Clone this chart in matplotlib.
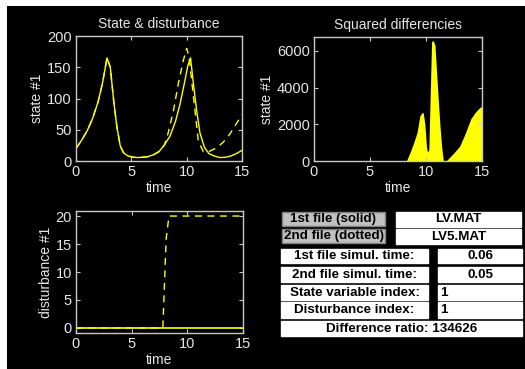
import matplotlib.pyplot as plt
from matplotlib.patches import Rectangle

# ---- data ----
t_solid = [0, 0.5, 1.0, 1.5, 2.0, 2.4, 2.8, 3.1, 3.4, 3.7, 4.0, 4.3, 4.7, 5.2, 5.6,
           6.0, 6.5, 7.0, 7.5, 8.0, 8.5, 9.0, 9.4, 9.8, 10.1, 10.35, 10.6, 10.9,
           11.2, 11.6, 12.0, 12.5, 13.0, 13.5, 14.0, 14.5, 15.0]
state_solid = [20, 33, 48, 68, 95, 125, 165, 150, 97, 54, 24, 13, 8, 6, 5.5,
               6, 7, 10, 15, 26, 40, 64, 91, 125, 152, 165, 125, 81,
               45, 22, 12, 8, 5.5, 6, 8, 12, 17]

t_dash = [0, 0.5, 1.0, 1.5, 2.0, 2.4, 2.8, 3.1, 3.4, 3.7, 4.0, 4.3, 4.7, 5.2, 5.6,
          6.0, 6.5, 7.0, 7.5, 8.0, 8.3, 8.8, 9.25, 9.7, 10.0, 10.2, 10.45, 10.75,
          11.05, 11.5, 12.0, 12.7, 13.3, 13.9, 14.5, 15.0]
state_dash = [20, 33, 48, 68, 95, 125, 165, 150, 97, 54, 24, 13, 8, 6, 5.5,
              6, 7, 10, 15, 26, 43, 80, 124, 161, 180, 168, 129, 81,
              32, 15, 15, 21, 30, 43, 60, 74]

t_sq = [0, 8.25, 8.6, 8.9, 9.2, 9.45, 9.6, 9.75, 9.9, 10.04, 10.12, 10.25, 10.4,
        10.5, 10.65, 10.8, 10.95, 11.1, 11.25, 11.4, 11.55, 11.8, 12.1, 12.5,
        13.0, 13.5, 14.0, 14.4, 14.7, 15.0]
sq_diff = [0, 0, 500, 1000, 1550, 2450, 2600, 2650, 2000, 800, 500, 600, 4200,
           6500, 6550, 6300, 4800, 3300, 1900, 760, 0, 0, 200, 450,
           800, 1500, 2300, 2650, 2850, 3000]

t_dist_solid = [0, 15]
dist_solid = [0, 0]
t_dist_dash = [0, 7.8, 8.1, 8.35, 15]
dist_dash = [0, 0, 16, 20, 20]

files = ["LV.MAT", "LV5.MAT"]
sim_times = ["0.06", "0.05"]
state_index = "1"
dist_index = "1"
diff_ratio = "134626"

# ---- figure ----
W, H = 525, 369
fig = plt.figure(figsize=(W / 100, H / 100), dpi=100, facecolor='white')
fig.patches.append(Rectangle((7 / W, 0), 1 - 7 / W, 1 - 6 / H, transform=fig.transFigure,
                             facecolor='black', edgecolor='none', zorder=-5))

fg = '#e6e6e6'
plt.rcParams['font.family'] = ['Liberation Sans', 'DejaVu Sans']


def px_axes(l, t, r, b):
    return fig.add_axes([l / W, 1 - b / H, (r - l) / W, (b - t) / H])


def style(ax):
    ax.set_facecolor('black')
    for s in ax.spines.values():
        s.set_color('#c8c8c8')
        s.set_linewidth(1)
    ax.tick_params(direction='in', top=True, right=True, length=3, colors='#c8c8c8',
                   labelcolor=fg, labelsize=10.5, pad=3)
    ax.set_xlim(0, 15)
    ax.set_xticks([0, 5, 10, 15])


ax1 = px_axes(76, 36, 242, 161)
style(ax1)
ax1.plot(t_solid, state_solid, '-', color='yellow', lw=1)
ax1.plot(t_dash, state_dash, '--', color='yellow', lw=1, dashes=(5, 4))
ax1.set_ylim(0, 200)
ax1.set_yticks([0, 50, 100, 150, 200])
ax1.set_title('State & disturbance', color=fg, fontsize=10, pad=6)
ax1.set_xlabel('time', color=fg, fontsize=10, labelpad=1)
ax1.set_ylabel('state #1', color=fg, fontsize=10, labelpad=2)

ax2 = px_axes(314, 37, 482, 161)
style(ax2)
ax2.fill_between(t_sq, sq_diff, 0, color='yellow', lw=0)
ax2.set_ylim(0, 6750)
ax2.set_yticks([0, 2000, 4000, 6000])
ax2.set_title('Squared differencies', color=fg, fontsize=10, pad=6)
ax2.set_xlabel('time', color=fg, fontsize=10, labelpad=1)
ax2.set_ylabel('state #1', color=fg, fontsize=10, labelpad=2)

ax3 = px_axes(76, 211, 243, 333)
style(ax3)
ax3.plot(t_dist_solid, dist_solid, '-', color='yellow', lw=1.2)
ax3.plot(t_dist_dash, dist_dash, '--', color='yellow', lw=1, dashes=(5, 4))
ax3.set_ylim(-0.9, 20.9)
ax3.set_yticks([0, 5, 10, 15, 20])
ax3.set_xlabel('time', color=fg, fontsize=10, labelpad=1)
ax3.set_ylabel('disturbance #1', color=fg, fontsize=10, labelpad=2)


# ---- control panel ----
def box(l, t, r, b, text, face='white', align='center', edge='white'):
    fig.patches.append(Rectangle((l / W, 1 - b / H), (r - l) / W, (b - t) / H,
                                 transform=fig.transFigure, facecolor=face,
                                 edgecolor=edge, lw=1, zorder=2))
    if align == 'center':
        x, ha = (l + r) / 2 / W, 'center'
    else:
        x, ha = (l + 2) / W, 'left'
    fig.text(x, 1 - (t + b) / 2 / H, text, ha=ha, va='center', fontsize=9.6,
             fontweight='bold', color='black', zorder=3)


box(282, 212, 385, 226, '1st file (solid)', face='#c0c0c0', edge='#808080')
box(396, 212, 521, 227, files[0])
box(282, 229, 385, 243, '2nd file (dotted)', face='#c0c0c0', edge='#808080')
box(396, 229, 521, 244, files[1])
box(281, 249, 428, 263, '1st file simul. time:')
box(438, 249, 522, 263, sim_times[0])
box(281, 267, 428, 282, '2nd file simul. time:')
box(438, 267, 522, 282, sim_times[1])
box(281, 285, 428, 300, 'State variable index:')
box(438, 285, 522, 300, state_index, align='left')
box(281, 302, 428, 318, 'Disturbance index:')
box(438, 302, 522, 318, dist_index, align='left')
box(281, 321, 522, 336, 'Difference ratio: ' + diff_ratio)

fig.savefig('out.png', dpi=100, facecolor=fig.get_facecolor())
